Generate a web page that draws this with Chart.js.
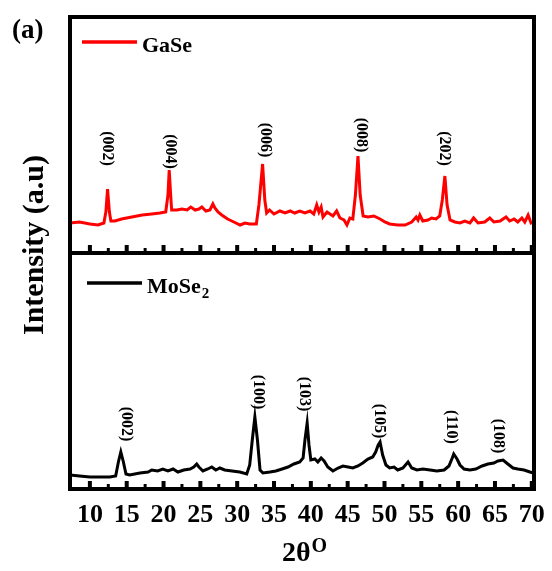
<!DOCTYPE html>
<html><head><meta charset="utf-8">
<script src="https://cdn.jsdelivr.net/npm/chart.js@4.4.0/dist/chart.umd.min.js"></script>
<style>html,body{margin:0;padding:0;background:#fff;}#c{display:block;}</style>
</head><body>
<canvas id="c" width="552" height="571"></canvas>
<script>
// ---------- data ----------
const xTickValues = [10, 15, 20, 25, 30, 35, 40, 45, 50, 55, 60, 65, 70];
const seriesNames = ['GaSe', 'MoSe2'];

const gaseX = [7.3, 8.6, 10.0, 11.1, 11.9, 12.17, 12.4, 12.65, 12.85, 13.4, 14.3, 15.7, 17.1, 18.4, 19.5, 20.3, 20.6, 20.77, 20.97, 21.1, 21.8, 22.5, 23.2, 23.7, 24.3, 24.8, 25.2, 25.75, 26.3, 26.7, 26.97, 27.4, 27.9, 28.7, 29.55, 30.4, 31.05, 31.7, 32.6, 32.95, 33.45, 33.75, 34.0, 34.4, 35.0, 35.8, 36.5, 37.2, 37.8, 38.5, 39.2, 39.9, 40.4, 40.8, 41.1, 41.4, 41.65, 42.2, 43.0, 43.5, 43.95, 44.5, 44.9, 45.3, 45.7, 46.05, 46.4, 46.7, 47.1, 47.75, 48.55, 49.4, 50.05, 50.7, 51.8, 52.8, 53.7, 54.3, 54.55, 54.8, 55.2, 55.9, 56.4, 57.0, 57.5, 57.85, 58.2, 58.5, 58.9, 59.55, 60.25, 60.9, 61.6, 62.1, 62.7, 63.6, 64.3, 64.85, 65.7, 66.5, 67.0, 67.6, 68.1, 68.65, 69.05, 69.5, 69.9, 70.2];
const gaseY = [30, 31, 29, 28, 30, 41, 64, 41, 32, 32, 34, 36, 38, 39, 40, 41, 58, 83, 58, 43, 43, 44, 43, 46, 43, 44, 46, 42, 43, 49, 45, 41, 38, 34, 31, 28, 30, 29, 29, 48, 89, 53, 40, 43, 39, 42, 40, 42, 40, 42, 40, 42, 39, 48, 41, 46, 36, 41, 37, 42, 35, 33, 28, 35, 34, 58, 97, 58, 37, 36, 37, 34, 31, 29, 28, 28, 31, 36, 33, 38, 32, 33, 35, 34, 37, 53, 77, 48, 33, 31, 30, 32, 30, 35, 30, 31, 35, 31, 32, 36, 32, 34, 31, 35, 31, 38, 30, 31];

const moseX = [7.3, 8.6, 10, 11.35, 12.7, 13.5, 13.87, 14.2, 14.55, 14.9, 15.4, 16.8, 17.9, 18.4, 19.2, 19.9, 20.6, 21.3, 21.95, 22.75, 23.6, 24.1, 24.5, 24.8, 25.35, 26.0, 26.55, 27.1, 27.65, 28.3, 29.3, 30.35, 31.3, 31.7, 32.05, 32.4, 32.75, 33.1, 33.5, 34.45, 35.25, 36.1, 36.9, 37.7, 38.5, 38.95, 39.2, 39.5, 39.75, 40.0, 40.55, 40.95, 41.4, 41.8, 42.3, 43.0, 43.7, 44.35, 45.05, 45.7, 46.4, 47.05, 47.75, 48.4, 48.8, 49.15, 49.4, 49.75, 50.2, 50.7, 51.3, 51.8, 52.5, 53.2, 53.7, 54.4, 55.2, 56.2, 57.1, 58.1, 58.75, 59.2, 59.4, 59.85, 60.25, 60.8, 61.6, 62.4, 63.25, 64.05, 64.85, 65.4, 66.1, 66.75, 67.45, 68.1, 68.95, 69.75, 70.2];
const moseY = [14, 13, 12, 12, 12, 13, 27, 37, 27, 15, 14, 16, 17, 19, 18, 20, 18, 20, 17, 19, 20, 22, 25, 22, 18, 20, 22, 19, 21, 19, 18, 17, 15, 24, 49, 72, 49, 19, 16, 17, 18, 20, 22, 25, 27, 31, 49, 66, 44, 29, 30, 27, 31, 28, 22, 18, 21, 23, 22, 21, 23, 26, 30, 32, 37, 44, 47, 34, 24, 21, 22, 19, 21, 27, 21, 19, 20, 19, 18, 19, 23, 31, 35, 30, 24, 20, 19, 20, 23, 25, 26, 28, 29, 25, 21, 20, 19, 17, 16];

const gasePeakLabels = ['(002)', '(004)', '(006)', '(008)', '(202)'];
const gasePeakLabelX = [12.3, 20.86, 33.76, 46.8, 58.07];
const gasePeakLabelY = [104.5, 101.5, 113, 118, 104.5];

const mosePeakLabels = ['(002)', '(100)', '(103)', '(105)', '(110)', '(108)'];
const mosePeakLabelX = [14.9, 32.8, 39.06, 49.25, 59.0, 65.4];
const mosePeakLabelY = [65, 97, 95, 68, 62, 53];

// ---------- layout / style constants ----------
const PANEL = 236;          // height of one panel in intensity units (top panel offset)
const SERIF = '"Liberation Serif", "Times New Roman", serif';

const toPts = (xs, ys, off) => xs.map((x, i) => ({x: x, y: ys[i] + off}));

const decor = {
  id: 'decor',
  afterDraw(chart) {
    const ctx = chart.ctx, ca = chart.chartArea;
    const xs = chart.scales.x, ys = chart.scales.y;
    const sepY = ys.getPixelForValue(PANEL);
    ctx.save();
    // frame
    ctx.strokeStyle = '#000';
    ctx.lineWidth = 4;
    ctx.strokeRect(ca.left, ca.top, ca.right - ca.left, ca.bottom - ca.top);
    ctx.beginPath();
    ctx.moveTo(ca.left, sepY); ctx.lineTo(ca.right, sepY); ctx.stroke();
    // ticks (inward, pointing up) at the bottom of each panel
    ctx.fillStyle = '#000';
    [sepY, ca.bottom].forEach(base => {
      xTickValues.forEach((v, i) => {
        const px = xs.getPixelForValue(v);
        ctx.fillRect(px - 2, base - 8, 4, 8);
        if (i < xTickValues.length - 1) {
          const pm = xs.getPixelForValue(v + 2.5);
          ctx.fillRect(pm - 1.5, base - 5, 3, 5);
        }
      });
    });
    // peak labels
    ctx.font = 'bold 16px ' + SERIF;
    ctx.textAlign = 'center';
    ctx.textBaseline = 'middle';
    const drawLab = (labs, lx, ly, off) => {
      labs.forEach((t, i) => {
        ctx.save();
        ctx.translate(xs.getPixelForValue(lx[i]), ys.getPixelForValue(ly[i] + off));
        ctx.rotate(Math.PI / 2);
        ctx.fillText(t, 0, 0);
        ctx.restore();
      });
    };
    drawLab(gasePeakLabels, gasePeakLabelX, gasePeakLabelY, PANEL);
    drawLab(mosePeakLabels, mosePeakLabelX, mosePeakLabelY, 0);
    // legends
    ctx.textAlign = 'left';
    ctx.textBaseline = 'alphabetic';
    ctx.lineWidth = 3.5;
    ctx.strokeStyle = '#ff0000';
    ctx.beginPath(); ctx.moveTo(ca.left + 12, ca.top + 25); ctx.lineTo(ca.left + 67, ca.top + 25); ctx.stroke();
    ctx.fillStyle = '#000';
    ctx.font = 'bold 22px ' + SERIF;
    ctx.fillText(seriesNames[0], ca.left + 72, ca.top + 35);
    ctx.strokeStyle = '#000';
    ctx.beginPath(); ctx.moveTo(ca.left + 17, sepY + 30); ctx.lineTo(ca.left + 72, sepY + 30); ctx.stroke();
    const base = seriesNames[1].slice(0, -1), sub = seriesNames[1].slice(-1);
    ctx.fillText(base, ca.left + 77, sepY + 40);
    const bw = ctx.measureText(base).width;
    ctx.font = 'bold 15px ' + SERIF;
    ctx.fillText(sub, ca.left + 77 + bw + 1, sepY + 45);
    // y title
    ctx.save();
    ctx.font = 'bold 30px ' + SERIF;
    ctx.translate(43, (ca.top + ca.bottom) / 2 - 8);
    ctx.rotate(-Math.PI / 2);
    ctx.textAlign = 'center';
    ctx.fillText('Intensity (a.u)', 0, 0);
    ctx.restore();
    // x title 2θ^O
    ctx.font = 'bold 28px ' + SERIF;
    const t1 = '2θ';
    const w1 = ctx.measureText(t1).width;
    ctx.font = 'bold 20px ' + SERIF;
    const w2 = ctx.measureText('O').width;
    const cx = (ca.left + ca.right) / 2 + 2;
    const sx = cx - (w1 + w2) / 2;
    ctx.font = 'bold 28px ' + SERIF;
    ctx.fillText(t1, sx, 561);
    ctx.font = 'bold 20px ' + SERIF;
    ctx.fillText('O', sx + w1 + 1, 552);
    // panel tag
    ctx.font = 'bold 27px ' + SERIF;
    ctx.fillText('(a)', 12, 38);
    ctx.restore();
  }
};

new Chart(document.getElementById('c'), {
  type: 'line',
  data: {
    datasets: [
      {label: seriesNames[0], data: toPts(gaseX, gaseY, PANEL), borderColor: '#ff0000', borderWidth: 3, pointRadius: 0, tension: 0, fill: false},
      {label: seriesNames[1], data: toPts(moseX, moseY, 0), borderColor: '#000000', borderWidth: 3, pointRadius: 0, tension: 0, fill: false}
    ]
  },
  options: {
    responsive: false,
    animation: false,
    events: [],
    layout: {padding: {left: 70, right: 18, top: 17, bottom: 0}},
    plugins: {legend: {display: false}, tooltip: {enabled: false}},
    scales: {
      x: {
        type: 'linear', min: 7.3, max: 70.3,
        afterBuildTicks: s => { s.ticks = xTickValues.map(v => ({value: v})); },
        afterFit: s => { s.height = 82; s.paddingLeft = 0; s.paddingRight = 0; },
        grid: {display: false, drawTicks: false},
        border: {display: false},
        ticks: {color: '#000', font: {family: SERIF, size: 26, weight: 'bold'}, padding: 11, maxRotation: 0, autoSkip: false}
      },
      y: {type: 'linear', min: 0, max: 2 * PANEL, display: false}
    }
  },
  plugins: [decor]
});
</script>
</body></html>
